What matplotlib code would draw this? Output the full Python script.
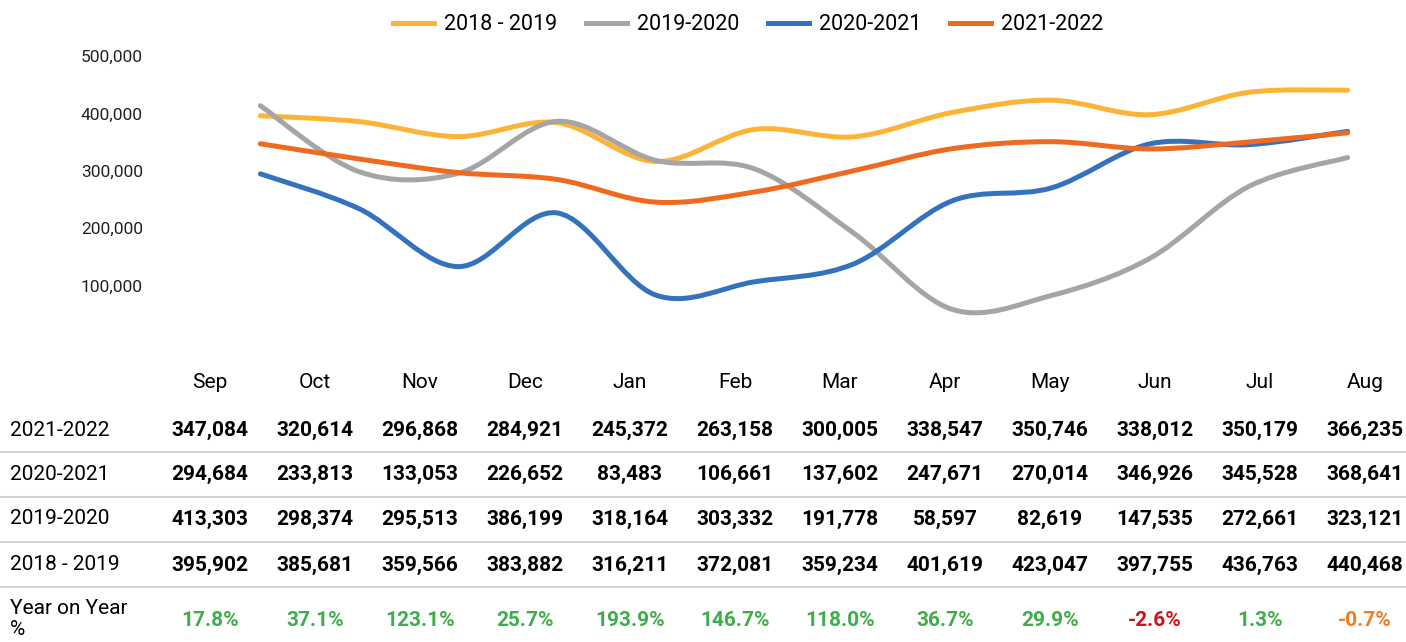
import matplotlib.pyplot as plt
from matplotlib.path import Path
from matplotlib.patches import PathPatch
from matplotlib.lines import Line2D

plt.rcParams['font.family'] = ['Roboto', 'DejaVu Sans']

months = ['Sep', 'Oct', 'Nov', 'Dec', 'Jan', 'Feb', 'Mar', 'Apr', 'May', 'Jun', 'Jul', 'Aug']
s1819 = [395902, 385681, 359566, 383882, 316211, 372081, 359234, 401619, 423047, 397755, 436763, 440468]
s1920 = [413303, 298374, 295513, 386199, 318164, 303332, 191778, 58597, 82619, 147535, 272661, 323121]
s2021 = [294684, 233813, 133053, 226652, 83483, 106661, 137602, 247671, 270014, 346926, 345528, 368641]
s2122 = [347084, 320614, 296868, 284921, 245372, 263158, 300005, 338547, 350746, 338012, 350179, 366235]
yoy = ['17.8%', '37.1%', '123.1%', '25.7%', '193.9%', '146.7%', '118.0%', '36.7%', '29.9%', '-2.6%', '1.3%', '-0.7%']
yticks = [100000, 200000, 300000, 400000, 500000]

names = ['2018 - 2019', '2019-2020', '2020-2021', '2021-2022']
colors = ['#FDB336', '#A5A5A5', '#3472BE', '#EF6A1E']
green, red, orange = '#3DAE49', '#C8161D', '#F47C20'


def smooth_path(xs, ys):
    # excel-like smoothed line as cubic bezier segments
    pts = list(zip(xs, ys))
    n = len(pts)
    verts = [pts[0]]
    codes = [Path.MOVETO]
    for i in range(n - 1):
        p0 = pts[i - 1] if i > 0 else pts[i]
        p1, p2 = pts[i], pts[i + 1]
        p3 = pts[i + 2] if i + 2 < n else pts[i + 1]
        c1 = (p1[0] + (p2[0] - p0[0]) / 6, p1[1] + (p2[1] - p0[1]) / 6)
        c2 = (p2[0] - (p3[0] - p1[0]) / 6, p2[1] - (p3[1] - p1[1]) / 6)
        verts += [c1, c2, p2]
        codes += [Path.CURVE4] * 3
    return Path(verts, codes)


W, H = 1406, 642
fig = plt.figure(figsize=(W / 100, H / 100), dpi=100)
ax = fig.add_axes([211 / W, 1 - 343 / H, (1397 - 211) / W, (343 - 56) / H])

x = list(range(len(months)))
for s, c in zip([s1819, s1920, s2021, s2122], colors):
    ax.add_patch(PathPatch(smooth_path(x, s), facecolor='none', edgecolor=c,
                           lw=3.6, capstyle='round', joinstyle='round'))

ax.set_xlim(-0.5, 11.5)
ax.set_ylim(0, 500000)
ax.set_xticks([])
ax.set_yticks(yticks)
ax.set_yticklabels([f'{v:,}' for v in yticks])
ax.tick_params(axis='y', length=0, pad=49, labelsize=12.5, labelcolor='#222222')
for sp in ax.spines.values():
    sp.set_visible(False)

handles = [Line2D([], [], color=c, lw=3.6) for c in colors]
fig.legend(handles, names, loc='center', bbox_to_anchor=(748 / W, 1 - 25 / H),
           ncol=4, frameon=False, fontsize=15.5, handlelength=1.9,
           handletextpad=0.45, columnspacing=1.35, borderpad=0)

# table under the chart
col_x = [210 + 105 * i for i in range(12)]
for cx, m in zip(col_x, months):
    fig.text(cx / W, 1 - 383 / H, m, ha='center', va='center', fontsize=15)

rows = [('2021-2022', s2122, 430), ('2020-2021', s2021, 474),
        ('2019-2020', s1920, 519), ('2018 - 2019', s1819, 565)]
for label, vals, y in rows:
    fig.text(10 / W, 1 - y / H, label, ha='left', va='center', fontsize=15)
    for cx, v in zip(col_x, vals):
        fig.text(cx / W, 1 - y / H, f'{v:,}', ha='center', va='center',
                 fontsize=15, fontweight='bold', color='black')

for y in [452, 497, 542, 587]:
    fig.add_artist(Line2D([0, 1], [1 - y / H, 1 - y / H], color='#D3D3D3', lw=1.5))

fig.text(10 / W, 1 - 619 / H, 'Year on Year\n%', ha='left', va='center',
         fontsize=15, linespacing=1.15)
for cx, p in zip(col_x, yoy):
    if p == '-2.6%':
        c = red
    elif p.startswith('-'):
        c = orange
    else:
        c = green
    fig.text(cx / W, 1 - 620 / H, p, ha='center', va='center',
             fontsize=15, fontweight='bold', color=c)

fig.savefig('out.png', dpi=100)
